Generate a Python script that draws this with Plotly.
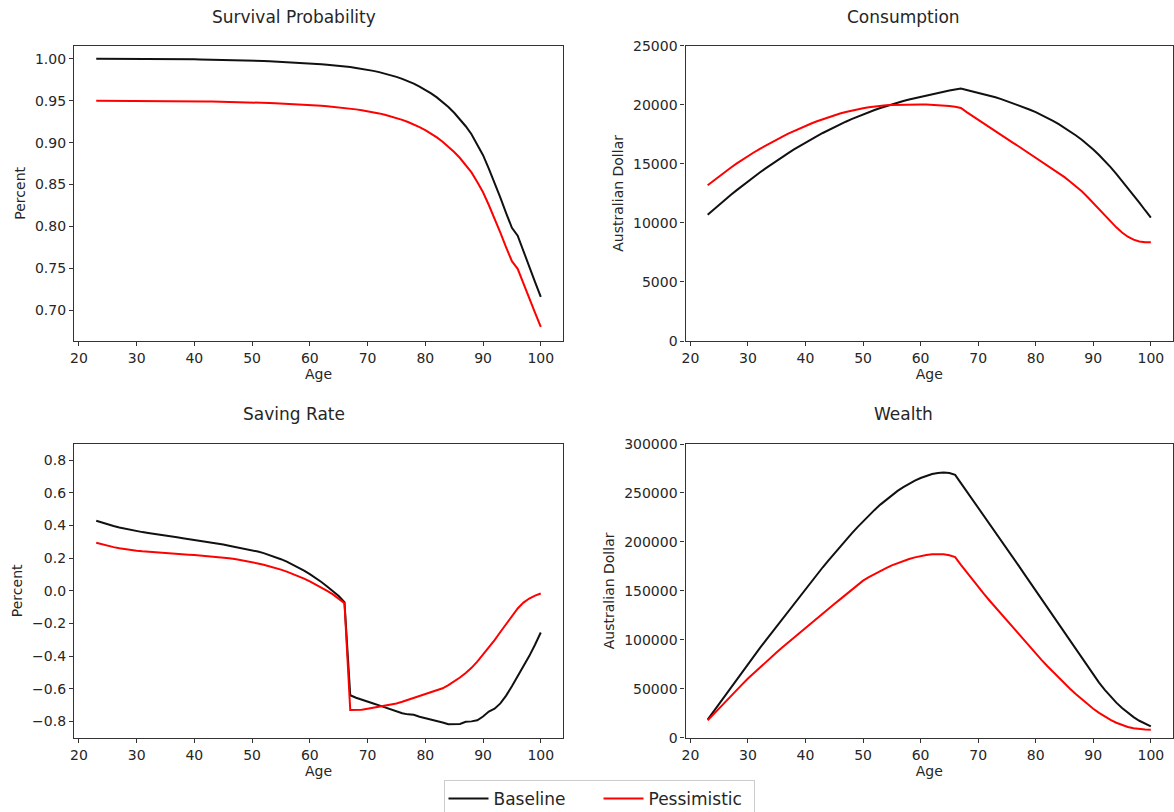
import plotly.graph_objects as go

ages = list(range(23, 101))

surv_base = [1.0000, 1.0000, 1.0000, 1.0000, 0.9999, 0.9999, 0.9999, 0.9998, 0.9998, 0.9998,
             0.9997, 0.9997, 0.9996, 0.9996, 0.9995, 0.9994, 0.9993, 0.9992, 0.9991, 0.9990,
             0.9989, 0.9988, 0.9986, 0.9985, 0.9983, 0.9981, 0.9979, 0.9977, 0.9975, 0.9972,
             0.9970, 0.9967, 0.9964, 0.9961, 0.9957, 0.9953, 0.9949, 0.9945, 0.9940, 0.9935,
             0.9929, 0.9923, 0.9916, 0.9908, 0.9900, 0.9890, 0.9880, 0.9868, 0.9855, 0.9840,
             0.9823, 0.9804, 0.9783, 0.9759, 0.9732, 0.9702, 0.9668, 0.9630, 0.9587, 0.9539,
             0.9485, 0.9424, 0.9356, 0.9280, 0.9195, 0.9100, 0.8980, 0.8850, 0.8690, 0.8525,
             0.8345, 0.8160, 0.7985, 0.7890, 0.7700, 0.7520, 0.7340, 0.7160]
surv_pess = [0.9500, 0.9500, 0.9500, 0.9500, 0.9499, 0.9499, 0.9499, 0.9498, 0.9498, 0.9498,
             0.9497, 0.9497, 0.9496, 0.9496, 0.9495, 0.9494, 0.9493, 0.9492, 0.9491, 0.9491,
             0.9490, 0.9489, 0.9487, 0.9486, 0.9484, 0.9482, 0.9480, 0.9478, 0.9476, 0.9473,
             0.9472, 0.9469, 0.9466, 0.9463, 0.9459, 0.9455, 0.9452, 0.9448, 0.9443, 0.9438,
             0.9433, 0.9427, 0.9420, 0.9413, 0.9405, 0.9396, 0.9386, 0.9375, 0.9362, 0.9348,
             0.9332, 0.9314, 0.9294, 0.9271, 0.9245, 0.9217, 0.9185, 0.9149, 0.9108, 0.9062,
             0.9011, 0.8953, 0.8888, 0.8816, 0.8735, 0.8645, 0.8531, 0.8408, 0.8256, 0.8099,
             0.7928, 0.7752, 0.7586, 0.7496, 0.7315, 0.7144, 0.6973, 0.6802]

cons_base = [10680, 11112, 11535, 11949, 12354, 12750, 13137, 13515, 13884, 14244,
             14595, 14937, 15270, 15594, 15909, 16215, 16512, 16800, 17079, 17349,
             17610, 17862, 18105, 18339, 18564, 18780, 18987, 19185, 19374, 19554,
             19725, 19887, 20040, 20184, 20319, 20445, 20562, 20670, 20790, 20900,
             21010, 21110, 21200, 21290, 21370, 21250, 21140, 21020, 20900, 20780,
             20640, 20480, 20310, 20140, 19960, 19780, 19580, 19370, 19140, 18900,
             18640, 18360, 18060, 17740, 17400, 17040, 16650, 16210, 15740, 15250,
             14720, 14150, 13560, 12960, 12340, 11720, 11070, 10450]
cons_pess = [13180, 13570, 13950, 14320, 14670, 15010, 15340, 15660, 15960, 16250,
             16530, 16800, 17060, 17310, 17550, 17780, 18000, 18210, 18410, 18600,
             18780, 18950, 19110, 19260, 19390, 19510, 19620, 19710, 19790, 19860,
             19920, 19960, 19990, 20010, 20030, 20040, 20040, 20030, 20020, 20000,
             19970, 19940, 19900, 19840, 19730, 19380, 19050, 18720, 18400, 18080,
             17760, 17440, 17120, 16800, 16490, 16170, 15850, 15530, 15220, 14890,
             14560, 14220, 13870, 13490, 13100, 12670, 12190, 11680, 11150, 10620,
             10100, 9620, 9190, 8830, 8580, 8430, 8370, 8360]

save_base = [0.430, 0.418, 0.407, 0.397, 0.388, 0.380, 0.373, 0.366, 0.360, 0.354,
             0.348, 0.343, 0.338, 0.333, 0.328, 0.323, 0.318, 0.313, 0.308, 0.302,
             0.296, 0.290, 0.284, 0.277, 0.270, 0.265, 0.258, 0.250, 0.241, 0.231,
             0.220, 0.208, 0.194, 0.179, 0.162, 0.144, 0.124, 0.102, 0.079, 0.054,
             0.027, -0.001, -0.032, -0.070, -0.640, -0.655, -0.668, -0.678, -0.690, -0.702,
             -0.714, -0.728, -0.742, -0.750, -0.757, -0.760, -0.772, -0.780, -0.788, -0.797,
             -0.807, -0.818, -0.815, -0.816, -0.802, -0.800, -0.793, -0.770, -0.740, -0.722,
             -0.690, -0.642, -0.585, -0.525, -0.465, -0.400, -0.330, -0.255]
save_pess = [0.295, 0.285, 0.276, 0.268, 0.261, 0.255, 0.250, 0.246, 0.242, 0.239,
             0.236, 0.233, 0.231, 0.228, 0.226, 0.224, 0.222, 0.220, 0.217, 0.215,
             0.212, 0.209, 0.205, 0.200, 0.195, 0.189, 0.183, 0.176, 0.168, 0.160,
             0.151, 0.141, 0.130, 0.118, 0.105, 0.091, 0.075, 0.058, 0.040, 0.021,
             0.000, -0.022, -0.046, -0.075, -0.730, -0.730, -0.728, -0.722, -0.716, -0.710,
             -0.703, -0.697, -0.690, -0.680, -0.668, -0.657, -0.647, -0.636, -0.624, -0.611,
             -0.597, -0.578, -0.556, -0.531, -0.503, -0.472, -0.434, -0.392, -0.348, -0.302,
             -0.252, -0.202, -0.153, -0.108, -0.072, -0.047, -0.029, -0.016]

wealth_base = [18400, 26600, 34800, 43000, 51200, 59300, 67500, 75600, 83300, 91000,
               98700, 106300, 114000, 121600, 129300, 136900, 144600, 152200, 159600, 166900,
               174100, 181200, 188200, 195100, 201800, 208400, 214800, 221000, 227000, 232700,
               238100, 243100, 247800, 252100, 256000, 259500, 262600, 265300, 267600, 269300,
               270400, 270800, 270400, 268500, 260100, 251800, 243600, 235400, 227000, 218500,
               210000, 201500, 193000, 184500, 176000, 167400, 158800, 150200, 141600, 132900,
               124200, 115500, 106800, 98100, 89400, 80800, 72300, 64000, 56200, 48900,
               42000, 35800, 30300, 25300, 21000, 17300, 14200, 11600]
wealth_pess = [17700, 24000, 30200, 36400, 42500, 48500, 54500, 60400, 65900, 71300,
               76700, 82000, 87200, 92300, 97300, 102300, 107200, 112000, 117000, 121900,
               126800, 131700, 136500, 141300, 146100, 150900, 155700, 160400, 164000, 167300,
               170400, 173300, 176000, 178400, 180600, 182500, 184200, 185600, 186700, 187400,
               187700, 187400, 186300, 184500, 176600, 168900, 161300, 153900, 146800, 139900,
               133100, 126400, 119800, 113000, 106200, 99400, 92600, 85900, 79500, 73200,
               67100, 61100, 55300, 49700, 44300, 39100, 34200, 29600, 25400, 21600,
               18200, 15300, 12900, 11000, 9600, 8700, 8300, 8100]

titles = ["Survival Probability", "Consumption", "Saving Rate", "Wealth"]
ylabels = ["Percent", "Australian Dollar", "Percent", "Australian Dollar"]
series_names = ["Baseline", "Pessimistic"]
BLACK = "#111111"
RED = "#ff0000"
FONT = "DejaVu Sans"
TXT = "#262626"

W, H = 1174, 812
col_dom = [[74 / W, 563 / W], [685.5 / W, 1173 / W]]
row_dom = [[1 - 341 / H, 1 - 45.7 / H], [1 - 737.7 / H, 1 - 444 / H]]

panels = [
    (surv_base, surv_pess, dict(range=[0.6635, 1.0155], tickvals=[0.70, 0.75, 0.80, 0.85, 0.90, 0.95, 1.00], tickformat=".2f")),
    (cons_base, cons_pess, dict(range=[0, 25000], dtick=5000, tick0=0, tickformat="d")),
    (save_base, save_pess, dict(range=[-0.9, 0.9], dtick=0.2, tick0=0, tickformat=".1f")),
    (wealth_base, wealth_pess, dict(range=[0, 300000], dtick=50000, tick0=0, tickformat="d")),
]

fig = go.Figure()
layout = {}
annotations = []
title_x = [293.5 / W, 903.5 / W]
title_y = [1 - 17 / H, 1 - 414 / H]

for i, (yb, yp, yopts) in enumerate(panels):
    r, c = divmod(i, 2)
    n = i + 1
    xa = "x" if n == 1 else f"x{n}"
    ya = "y" if n == 1 else f"y{n}"
    fig.add_trace(go.Scatter(x=ages, y=yb, mode="lines", name=series_names[0],
                             line=dict(color=BLACK, width=2), xaxis=xa, yaxis=ya,
                             showlegend=(i == 0), legendgroup="b"))
    fig.add_trace(go.Scatter(x=ages, y=yp, mode="lines", name=series_names[1],
                             line=dict(color=RED, width=2), xaxis=xa, yaxis=ya,
                             showlegend=(i == 0), legendgroup="p"))
    common = dict(showline=True, mirror=True, linecolor="#333333", linewidth=1.2,
                  ticks="outside", ticklen=4, tickcolor="#333333", tickwidth=1,
                  showgrid=False, zeroline=False, automargin=False,
                  tickfont=dict(family=FONT, size=14, color=TXT))
    layout[f"xaxis{'' if n == 1 else n}"] = dict(
        domain=col_dom[c], anchor=ya, range=[19.15, 103.85], dtick=10, tick0=20,
        title=dict(text="Age", font=dict(family=FONT, size=14, color=TXT), standoff=3),
        **common)
    layout[f"yaxis{'' if n == 1 else n}"] = dict(
        domain=row_dom[r], anchor=xa,
        title=dict(text=ylabels[i], font=dict(family=FONT, size=14, color=TXT), standoff=6),
        **yopts, **common)
    annotations.append(dict(text=titles[i], x=title_x[c], y=title_y[r], xref="paper", yref="paper",
                            xanchor="center", yanchor="middle", showarrow=False,
                            font=dict(family=FONT, size=17, color=TXT)))

fig.update_layout(
    width=W, height=H,
    margin=dict(l=0, r=0, t=0, b=0, autoexpand=False),
    paper_bgcolor="white", plot_bgcolor="white",
    font=dict(family=FONT, color=TXT),
    annotations=annotations,
    legend=dict(orientation="h", x=599 / W, xanchor="center", y=1 - 780 / H, yanchor="top",
                bordercolor="#cccccc", borderwidth=1, bgcolor="white",
                entrywidth=100, entrywidthmode="pixels",
                font=dict(family=FONT, size=17, color=TXT), itemwidth=40),
    **layout,
)

fig.write_html("out.html", config={"displayModeBar": False},
               post_script="document.body.style.margin='0';document.body.style.padding='0';"
                           "document.body.style.overflow='hidden';")
